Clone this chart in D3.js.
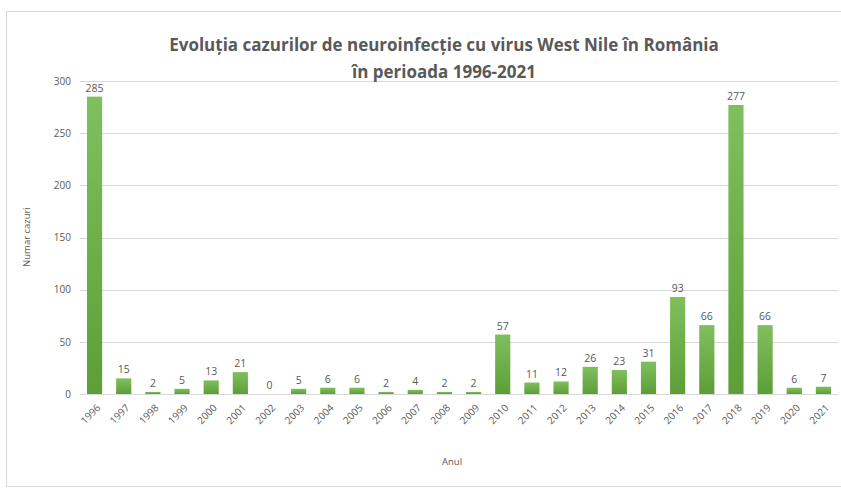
<!DOCTYPE html>
<html>
<head>
<meta charset="utf-8">
<script src="https://cdn.jsdelivr.net/npm/d3@7"></script>
<style>
  body { margin: 0; background: #fff; }
  text { font-family: "Open Sans", "DejaVu Sans", sans-serif; }
</style>
</head>
<body>
<div id="container"></div>
<script>
const years = ["1996","1997","1998","1999","2000","2001","2002","2003","2004","2005","2006","2007","2008",
  "2009","2010","2011","2012","2013","2014","2015","2016","2017","2018","2019","2020","2021"];
const cases = [285, 15, 2, 5, 13, 21, 0, 5, 6, 6, 2, 4, 2, 2, 57, 11, 12, 26, 23, 31, 93, 66, 277, 66, 6, 7];
const yTicks = [0, 50, 100, 150, 200, 250, 300];

const width = 841, height = 490;
const plot = { left: 80, right: 838, top: 81, bottom: 394 };

const svg = d3.select("#container").append("svg")
    .attr("width", width)
    .attr("height", height);

// chart frame
svg.append("rect")
    .attr("x", 6.5).attr("y", 11.5)
    .attr("width", 840).attr("height", 475)
    .attr("fill", "#fff")
    .attr("stroke", "#d9d9d9");

const grad = svg.append("defs").append("linearGradient")
    .attr("id", "barGrad").attr("x1", 0).attr("y1", 0).attr("x2", 0).attr("y2", 1);
grad.append("stop").attr("offset", "0%").attr("stop-color", "#80bf5e");
grad.append("stop").attr("offset", "100%").attr("stop-color", "#5c9f36");

const x = d3.scaleBand().domain(years).range([plot.left, plot.right]).paddingInner(0.48).paddingOuter(0.24);
const y = d3.scaleLinear().domain([0, 300]).range([plot.bottom, plot.top]);

// gridlines
svg.append("g")
    .selectAll("line").data(yTicks).join("line")
    .attr("x1", plot.left).attr("x2", plot.right)
    .attr("y1", d => Math.round(y(d)) + 0.5).attr("y2", d => Math.round(y(d)) + 0.5)
    .attr("stroke", "#d9d9d9");

// y axis labels
const yaxis = d3.axisLeft(y).tickValues(yTicks).tickSize(0).tickPadding(9);
svg.append("g")
    .attr("transform", "translate(" + plot.left + ",0)")
    .call(yaxis)
    .call(g => g.select(".domain").remove())
    .selectAll("text")
    .attr("fill", "#595959")
    .style("font-size", "10px");

// bars
svg.append("g")
    .selectAll("rect").data(years).join("rect")
    .attr("x", d => x(d))
    .attr("y", (d, i) => y(cases[i]))
    .attr("width", x.bandwidth())
    .attr("height", (d, i) => y(0) - y(cases[i]))
    .attr("fill", "url(#barGrad)");

// value labels
svg.append("g")
    .selectAll("text").data(years).join("text")
    .attr("x", d => x(d) + x.bandwidth() / 2)
    .attr("y", (d, i) => y(cases[i]) - 5)
    .attr("text-anchor", "middle")
    .attr("fill", "#595959")
    .style("font-size", "10.5px")
    .text((d, i) => cases[i]);

// x axis
const xaxis = d3.axisBottom(x).tickSize(0).tickPadding(0);
svg.append("g")
    .attr("transform", "translate(0," + plot.bottom + ")")
    .call(xaxis)
    .call(g => g.select(".domain").attr("stroke", "#d9d9d9"))
    .selectAll("text")
    .attr("fill", "#595959")
    .style("font-size", "10px")
    .attr("text-anchor", "end")
    .attr("dy", "0.35em")
    .attr("transform", "translate(4,12) rotate(-45)");

// axis titles
svg.append("text")
    .attr("transform", "translate(30,237) rotate(-90)")
    .attr("text-anchor", "middle")
    .attr("fill", "#595959")
    .style("font-size", "9.5px")
    .text("Numar cazuri");

svg.append("text")
    .attr("x", 452).attr("y", 465)
    .attr("text-anchor", "middle")
    .attr("fill", "#595959")
    .style("font-size", "9.5px")
    .text("Anul");

// title
const title = svg.append("text")
    .attr("text-anchor", "middle")
    .attr("fill", "#595959")
    .style("font-size", "17px")
    .style("font-weight", "bold");
title.append("tspan").attr("x", 444).attr("y", 51)
    .text("Evoluția cazurilor de neuroinfecție cu virus West Nile în România");
title.append("tspan").attr("x", 444).attr("y", 78)
    .text("în perioada 1996-2021");
</script>
</body>
</html>
